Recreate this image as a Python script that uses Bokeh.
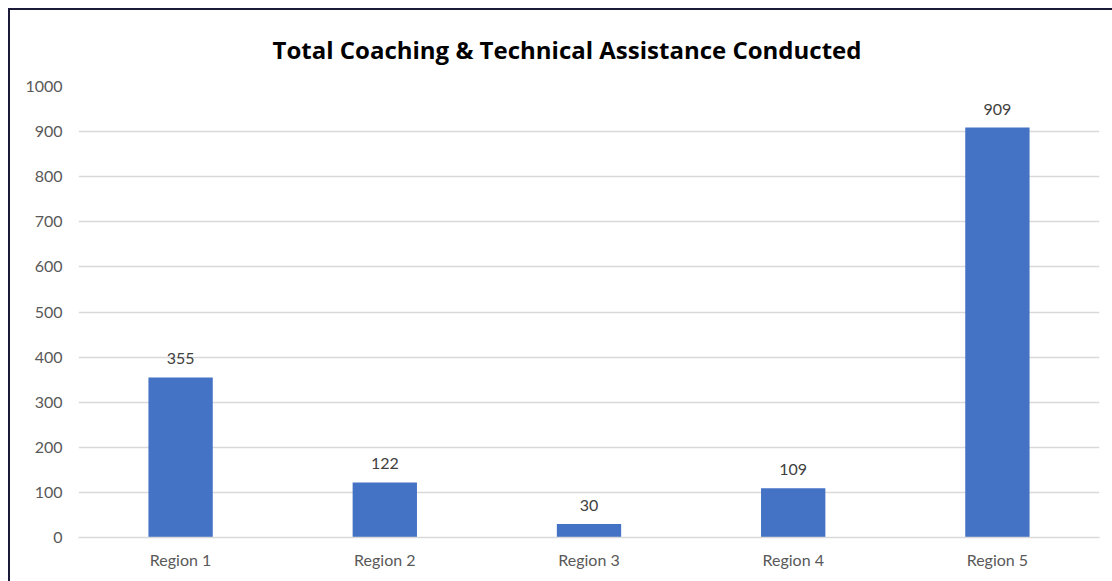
from bokeh.plotting import figure
from bokeh.models import ColumnDataSource, Range1d, FactorRange, SingleIntervalTicker
from bokeh.core.properties import value
from bokeh.embed import file_html
from bokeh.resources import INLINE

regions = ["Region 1", "Region 2", "Region 3", "Region 4", "Region 5"]
counts = [355, 122, 30, 109, 909]
title_text = "Total Coaching & Technical Assistance Conducted"

src = ColumnDataSource(dict(x=regions, y=counts, lbl=[str(c) for c in counts]))

p = figure(width=1104, height=573, x_range=FactorRange(*regions, range_padding=0),
           y_range=Range1d(0, 1000), output_backend="svg", toolbar_location=None,
           title=title_text, min_border_left=68, min_border_right=15,
           min_border_top=76, min_border_bottom=46)
p.margin = (8, 0, 0, 8)
p.styles = {"border-left": "2px solid #1c1a3a", "border-top": "2px solid #1c1a3a"}
p.title.align = "left"
p.title.text_font = "Open Sans"
p.title.text_font_size = "24px"
p.title.text_font_style = "bold"
p.title.text_color = "#000000"
p.title.offset = 194
p.title.standoff = 41

p.vbar(x="x", top="y", width=0.315, source=src, fill_color="#4472C4", line_color=None)
p.text(x="x", y="y", text="lbl", source=src, text_align="center", text_baseline="bottom",
       y_offset=-13, text_font=value("Lato"), text_font_size="16px", text_color="#404040")

p.yaxis.ticker = SingleIntervalTicker(interval=100)
p.ygrid.ticker = SingleIntervalTicker(interval=100)
p.ygrid.grid_line_color = "#d9d9d9"
p.ygrid.grid_line_width = 1.5
p.xgrid.grid_line_color = None
p.outline_line_color = None

for ax in (p.xaxis, p.yaxis):
    ax.major_tick_line_color = None
    ax.minor_tick_line_color = None
    ax.major_label_text_font = "Lato"
    ax.major_label_text_font_size = "16px"
    ax.major_label_text_color = "#595959"
p.yaxis.axis_line_color = None
p.xaxis.axis_line_color = "#d9d9d9"
p.xaxis.axis_line_width = 1.5
p.yaxis.major_label_standoff = 10
p.xaxis.major_label_standoff = 6

open("out.html", "w").write(file_html(p, INLINE))
